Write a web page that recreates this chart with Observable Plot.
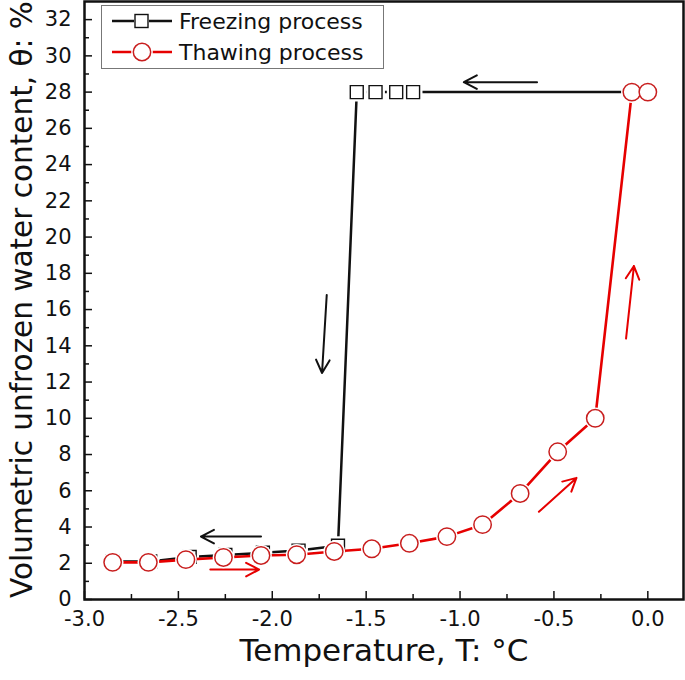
<!DOCTYPE html>
<html>
<head>
<meta charset="utf-8">
<script src="https://cdn.jsdelivr.net/npm/d3@7"></script>
<script src="https://cdn.jsdelivr.net/npm/@observablehq/plot@0.6"></script>
<style>
  body { margin: 0; background: white; }
  #wrap { position: relative; width: 685px; height: 680px; font-family: "DejaVu Sans", sans-serif; }
  #legend { position: absolute; left: 101px; top: 5px; width: 283px; height: 64px; box-sizing: border-box;
            border: 1px solid #777; background: white; }
  .row { position: absolute; left: 0; height: 30px; display: flex; align-items: center; }
  .row span { font-size: 22px; color: #111; margin-left: 3px; }
</style>
</head>
<body>
<div id="wrap"></div>
<script>
// Freezing process (starts at 0 °C and proceeds to colder temperatures)
const freezeT     = [0, -1.25, -1.34, -1.45, -1.55, -1.65, -1.86, -2.05, -2.25, -2.44, -2.65, -2.85];
const freezeTheta = [28, 28, 28, 28, 28, 2.97, 2.7, 2.58, 2.46, 2.35, 2.1, 2.1];
// Thawing process
const thawT     = [-2.85, -2.66, -2.46, -2.26, -2.06, -1.87, -1.67, -1.47, -1.27, -1.07, -0.88, -0.68, -0.48, -0.28, -0.085, 0];
const thawTheta = [2.05, 2.05, 2.2, 2.32, 2.43, 2.47, 2.65, 2.8, 3.1, 3.47, 4.13, 5.85, 8.15, 10.0, 28, 28];
// Direction arrows: [x1, y1, x2, y2, series]
const arrowX1 = [-0.59, -1.71, -2.06, -2.33, -0.58, -0.116];
const arrowY1 = [28.55, 16.8, 3.47, 1.65, 4.84, 14.4];
const arrowX2 = [-0.98, -1.735, -2.38, -2.07, -0.38, -0.074];
const arrowY2 = [28.55, 12.5, 3.47, 1.65, 6.71, 18.4];
const arrowSeries = ["Freezing", "Freezing", "Freezing", "Thawing", "Thawing", "Thawing"];
// Axis ticks
const xTicks = [-3, -2.5, -2, -1.5, -1, -0.5, 0];
const xMinor = [-2.75, -2.25, -1.75, -1.25, -0.75, -0.25];
const yTicks = [0, 2, 4, 6, 8, 10, 12, 14, 16, 18, 20, 22, 24, 26, 28, 30, 32];
const yMinor = [1, 3, 5, 7, 9, 11, 13, 15, 17, 19, 21, 23, 25, 27, 29, 31];

const freeze = freezeT.map((t, i) => ({T: t, theta: freezeTheta[i]}));
const thaw = thawT.map((t, i) => ({T: t, theta: thawTheta[i]}));
const arrows = arrowX1.map((x, i) => ({x1: x, y1: arrowY1[i], x2: arrowX2[i], y2: arrowY2[i], s: arrowSeries[i]}));

const W = 685, H = 680, ML = 84, MR = 2, MT = 1, MB = 81;
const fw = W - ML - MR, fh = H - MT - MB;
const RED = "#e60000", RED_DOT = "#c81e1e";
const font = "DejaVu Sans, sans-serif";

const chart = Plot.plot({
  width: W, height: H,
  marginLeft: ML, marginRight: MR, marginTop: MT, marginBottom: MB,
  style: {fontFamily: font, background: "white", color: "#111"},
  x: {domain: [-3, 0.19]},
  y: {domain: [0, 33]},
  marks: [
    // inward ticks
    Plot.ruleY(yTicks, {y: d => d, insetRight: fw - 8, stroke: "#111", strokeWidth: 1.5}),
    Plot.ruleY(yMinor, {y: d => d, insetRight: fw - 5, stroke: "#111", strokeWidth: 1.5}),
    Plot.ruleX(xTicks, {x: d => d, insetTop: fh - 8, stroke: "#111", strokeWidth: 1.5}),
    Plot.ruleX(xMinor, {x: d => d, insetTop: fh - 5, stroke: "#111", strokeWidth: 1.5}),
    Plot.axisY({ticks: yTicks, tickSize: 0, tickPadding: 13, fontSize: 21, label: null, tickFormat: d => String(d)}),
    Plot.axisX({ticks: xTicks, tickSize: 0, tickPadding: 12, fontSize: 21, label: null, tickFormat: d => d.toFixed(1)}),
    Plot.text(["Volumetric unfrozen water content, θ: %"], {frameAnchor: "left", textAnchor: "middle", dx: -62, dy: -1, rotate: -90, fontSize: 29.5, fill: "#111"}),
    Plot.text(["Temperature, T: °C"], {frameAnchor: "bottom", textAnchor: "middle", dy: 61, fontSize: 31, fill: "#111"}),
    // arrows
    Plot.arrow(arrows, {x1: "x1", y1: "y1", x2: "x2", y2: "y2",
      stroke: d => d.s === "Freezing" ? "#111" : RED, strokeWidth: 2, headLength: 11, headAngle: 55}),
    // freezing
    Plot.line(freeze, {x: "T", y: "theta", stroke: "#111", strokeWidth: 2.5}),
    Plot.dot(freeze, {x: "T", y: "theta", symbol: "square", r: 10.6, fill: "white", stroke: "none"}),
    Plot.dot(freeze, {x: "T", y: "theta", symbol: "square", r: 7.3, fill: "white", stroke: "#111", strokeWidth: 1.4}),
    // thawing
    Plot.line(thaw, {x: "T", y: "theta", stroke: RED, strokeWidth: 2.6}),
    Plot.dot(thaw, {x: "T", y: "theta", r: 10.8, fill: "white", stroke: "none"}),
    Plot.dot(thaw, {x: "T", y: "theta", r: 8.7, fill: "white", stroke: RED_DOT, strokeWidth: 1.5}),
    Plot.frame({stroke: "#111", strokeWidth: 2.5})
  ]
});

const wrap = document.getElementById("wrap");
wrap.appendChild(chart);

// legend
const legend = document.createElement("div");
legend.id = "legend";
legend.innerHTML = `
  <div class="row" style="top:0px;left:8px">
    <svg width="66" height="30"><line x1="2" y1="15" x2="62" y2="15" stroke="#111" stroke-width="2.5"/>
      <rect x="24" y="7.5" width="15" height="15" fill="white" stroke="none"/>
      <rect x="25" y="8.5" width="13" height="13" fill="white" stroke="#111" stroke-width="1.4"/></svg>
    <span>Freezing process</span></div>
  <div class="row" style="top:31px;left:8px">
    <svg width="66" height="30"><line x1="2" y1="15" x2="62" y2="15" stroke="${RED}" stroke-width="2.6"/>
      <circle cx="32" cy="15" r="10.8" fill="white"/>
      <circle cx="32" cy="15" r="8.7" fill="white" stroke="${RED_DOT}" stroke-width="1.5"/></svg>
    <span>Thawing process</span></div>`;
wrap.appendChild(legend);
</script>
</body>
</html>
